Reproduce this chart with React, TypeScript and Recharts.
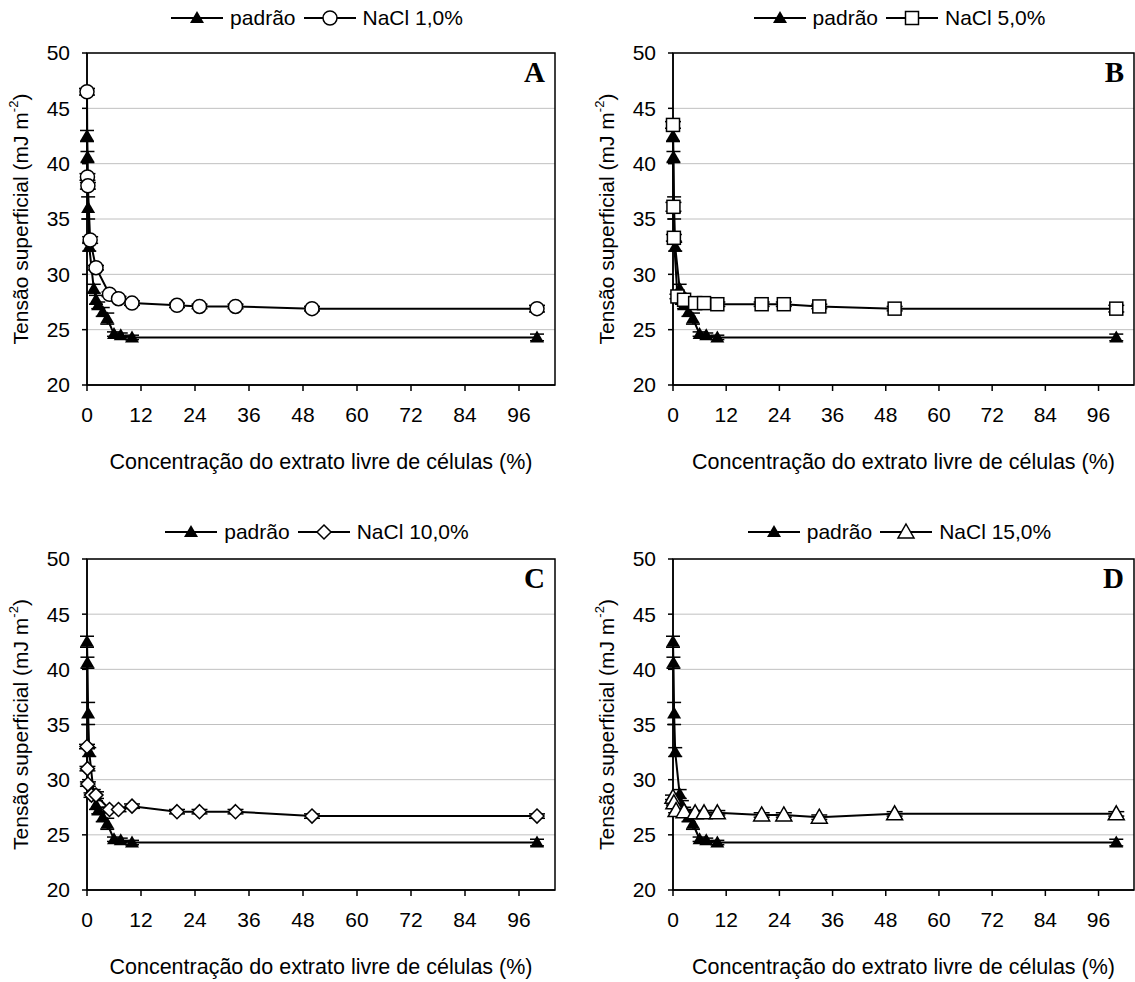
import { LineChart, Line, XAxis, YAxis, CartesianGrid, ReferenceArea, ErrorBar, Legend } from 'recharts'

// concentração do extrato (%) e tensão superficial (mJ m-2)
const padraoX = [0, 0.1, 0.25, 0.5, 1.5, 2, 2.5, 3.5, 4.5, 6, 7.5, 10, 100]
const padraoY = [42.5, 40.6, 36.0, 32.5, 28.7, 27.7, 27.2, 26.6, 26.0, 24.6, 24.5, 24.3, 24.3]
const padraoErr = [0.5, 0.5, 1.0, 0.4, 0.4, 0.4, 0.3, 0.4, 0.5, 0.2, 0.2, 0.2, 0.3]

const nacl1X = [0, 0.1, 0.2, 0.7, 2, 5, 7, 10, 20, 25, 33, 50, 100]
const nacl1Y = [46.5, 38.8, 38.0, 33.1, 30.6, 28.2, 27.8, 27.4, 27.2, 27.1, 27.1, 26.9, 26.9]
const nacl1Err = [0.3, 0.3, 0.3, 0.3, 0.2, 0.2, 0.2, 0.2, 0.2, 0.2, 0.2, 0.2, 0.3]

const nacl5X = [0, 0.1, 0.2, 1, 2.5, 5, 7, 10, 20, 25, 33, 50, 100]
const nacl5Y = [43.5, 36.1, 33.3, 28.0, 27.7, 27.4, 27.4, 27.3, 27.3, 27.3, 27.1, 26.9, 26.9]
const nacl5Err = [0.3, 0.4, 0.3, 0.2, 0.2, 0.2, 0.2, 0.2, 0.2, 0.2, 0.2, 0.2, 0.3]

const nacl10X = [0, 0.1, 0.2, 1, 2, 5, 7, 10, 20, 25, 33, 50, 100]
const nacl10Y = [33.0, 31.0, 29.6, 28.6, 28.6, 27.3, 27.3, 27.6, 27.1, 27.1, 27.1, 26.7, 26.7]
const nacl10Err = [0.2, 0.2, 0.2, 0.2, 0.3, 0.2, 0.2, 0.2, 0.2, 0.2, 0.2, 0.2, 0.2]

const nacl15X = [0, 0.2, 0.7, 2.5, 5, 7, 10, 20, 25, 33, 50, 100]
const nacl15Y = [28.4, 27.9, 27.2, 27.1, 27.0, 27.0, 27.0, 26.8, 26.8, 26.6, 26.9, 26.9]
const nacl15Err = [0.2, 0.2, 0.2, 0.2, 0.2, 0.2, 0.2, 0.2, 0.2, 0.2, 0.2, 0.2]

const xTicks = [0, 12, 24, 36, 48, 60, 72, 84, 96]
const yTicks = [20, 25, 30, 35, 40, 45, 50]

const FONT = "'Liberation Sans', Arial, sans-serif"
const X_MAX = 104

type Shape = 'triFilled' | 'circle' | 'square' | 'diamond' | 'triOpen'

const toRows = (xs: number[], ys: number[], errs: number[]) =>
  xs.map((x, i) => ({ x, y: ys[i], err: errs[i] }))

function Marker({ cx, cy, shape }: { cx: number; cy: number; shape: Shape }) {
  const s = { stroke: '#000', strokeWidth: 1.5, fill: '#fff' }
  switch (shape) {
    case 'triFilled':
      return <polygon points={`${cx},${cy - 7} ${cx + 7},${cy + 5} ${cx - 7},${cy + 5}`} fill="#000" />
    case 'circle':
      return <circle cx={cx} cy={cy} r={7} {...s} />
    case 'square':
      return <rect x={cx - 6.5} y={cy - 6.5} width={13} height={13} {...s} />
    case 'diamond':
      return <polygon points={`${cx},${cy - 7} ${cx + 7},${cy} ${cx},${cy + 7} ${cx - 7},${cy}`} {...s} />
    case 'triOpen':
      return <polygon points={`${cx},${cy - 8} ${cx + 8},${cy + 6} ${cx - 8},${cy + 6}`} {...s} />
  }
}

function LegendItem({ shape, label }: { shape: Shape; label: string }) {
  return (
    <span style={{ display: 'inline-flex', alignItems: 'center', marginRight: 8 }}>
      <svg width={52} height={20} style={{ marginRight: 7 }}>
        <line x1={0} y1={10} x2={52} y2={10} stroke="#000" strokeWidth={2} />
        <Marker cx={26} cy={10} shape={shape} />
      </svg>
      <span>{label}</span>
    </span>
  )
}

function YTitle({ viewBox }: any) {
  const cx = viewBox.x + 20
  const cy = viewBox.y + viewBox.height / 2
  return (
    <text
      x={cx}
      y={cy}
      transform={`rotate(-90, ${cx}, ${cy})`}
      textAnchor="middle"
      dominantBaseline="central"
      fontSize={21}
      fontFamily={FONT}
      fill="#000"
    >
      Tensão superficial (mJ m
      <tspan dy={-7} fontSize={13}>-2</tspan>
      <tspan dy={7}>)</tspan>
    </text>
  )
}

interface PanelProps {
  letter: string
  label: string
  shape: Shape
  rows: { x: number; y: number; err: number }[]
  left: number
  top: number
  width: number
  height: number
  marginRight: number
  marginBottom: number
  legendTop: number
}

const Y_AXIS_W = 87
const MARGIN_TOP = 53
const X_AXIS_H = 90

function Panel(p: PanelProps) {
  const padrao = toRows(padraoX, padraoY, padraoErr)
  const plotW = p.width - Y_AXIS_W - p.marginRight
  return (
    <div style={{ position: 'absolute', left: p.left, top: p.top }}>
      <LineChart
        width={p.width}
        height={p.height}
        margin={{ top: MARGIN_TOP, right: p.marginRight, bottom: p.marginBottom, left: 0 }}
      >
        <CartesianGrid vertical={false} stroke="#c0c0c0" strokeWidth={1} />
        <XAxis
          type="number"
          dataKey="x"
          domain={[0, X_MAX]}
          ticks={xTicks}
          height={X_AXIS_H}
          stroke="#000"
          strokeWidth={1.5}
          tickSize={6}
          tickMargin={16}
          tick={{ fill: '#000', fontSize: 21, fontFamily: FONT }}
          label={{
            value: 'Concentração do extrato livre de células (%)',
            position: 'insideBottom',
            offset: 6,
            style: { fill: '#000', fontSize: 21.5, fontFamily: FONT },
          }}
        />
        <YAxis
          type="number"
          domain={[20, 50]}
          ticks={yTicks}
          width={Y_AXIS_W}
          stroke="#000"
          strokeWidth={1.5}
          tickSize={5}
          tickMargin={12}
          tick={{ fill: '#000', fontSize: 21, fontFamily: FONT }}
          label={<YTitle />}
        />
        <ReferenceArea x1={0} x2={X_MAX} y1={20} y2={50} fill="none" stroke="#000" strokeWidth={1.5} ifOverflow="visible" />
        <Legend
          layout="horizontal"
          verticalAlign="middle"
          align="center"
          wrapperStyle={{ top: p.legendTop, left: Y_AXIS_W, width: plotW }}
          content={() => (
            <div style={{ display: 'flex', justifyContent: 'center', fontSize: 21, fontFamily: FONT, color: '#000', lineHeight: '24px' }}>
              <LegendItem shape="triFilled" label="padrão" />
              <LegendItem shape={p.shape} label={p.label} />
            </div>
          )}
        />
        <Line
          data={padrao}
          dataKey="y"
          name="padrão"
          type="linear"
          stroke="#000"
          strokeWidth={2}
          isAnimationActive={false}
          dot={(d: any) => <Marker key={`p${d.index}`} cx={d.cx} cy={d.cy} shape="triFilled" />}
        >
          <ErrorBar dataKey="err" direction="y" width={7} stroke="#000" strokeWidth={1.5} />
        </Line>
        <Line
          data={p.rows}
          dataKey="y"
          name={p.label}
          type="linear"
          stroke="#000"
          strokeWidth={2}
          isAnimationActive={false}
          dot={(d: any) => <Marker key={`n${d.index}`} cx={d.cx} cy={d.cy} shape={p.shape} />}
        >
          <ErrorBar dataKey="err" direction="y" width={8} stroke="#000" strokeWidth={1.5} />
        </Line>
      </LineChart>
      <div
        style={{
          position: 'absolute',
          left: Y_AXIS_W + plotW - 70,
          width: 60,
          top: MARGIN_TOP + 5,
          textAlign: 'right',
          fontFamily: "'Liberation Serif', 'Times New Roman', serif",
          fontWeight: 'bold',
          fontSize: 29,
          lineHeight: 1,
        }}
      >
        {p.letter}
      </div>
    </div>
  )
}

export default function App() {
  return (
    <div style={{ position: 'absolute', left: 0, top: 0, width: 1135, height: 982, background: '#fff' }}>
      <Panel letter="A" label="NaCl 1,0%" shape="circle" rows={toRows(nacl1X, nacl1Y, nacl1Err)}
        left={0} top={0} width={567} height={491} marginRight={12} marginBottom={16} legendTop={6} />
      <Panel letter="B" label="NaCl 5,0%" shape="square" rows={toRows(nacl5X, nacl5Y, nacl5Err)}
        left={586} top={0} width={549} height={491} marginRight={1} marginBottom={16} legendTop={6} />
      <Panel letter="C" label="NaCl 10,0%" shape="diamond" rows={toRows(nacl10X, nacl10Y, nacl10Err)}
        left={0} top={506} width={567} height={476} marginRight={12} marginBottom={2} legendTop={14} />
      <Panel letter="D" label="NaCl 15,0%" shape="triOpen" rows={toRows(nacl15X, nacl15Y, nacl15Err)}
        left={586} top={506} width={549} height={476} marginRight={1} marginBottom={2} legendTop={14} />
    </div>
  )
}
